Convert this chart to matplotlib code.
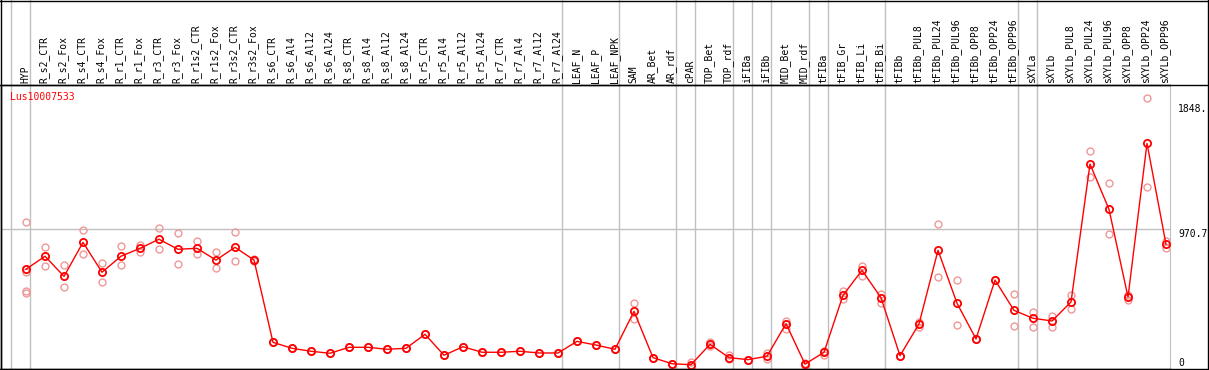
import matplotlib
matplotlib.use('Agg')
import matplotlib.pyplot as plt
import matplotlib.transforms as mtransforms
from matplotlib.lines import Line2D

# Sample names across the top
labels = ['HYP', 'R_s2_CTR', 'R_s2_Fox', 'R_s4_CTR', 'R_s4_Fox', 'R_r1_CTR', 'R_r1_Fox',
          'R_r3_CTR', 'R_r3_Fox', 'R_r1s2_CTR', 'R_r1s2_Fox', 'R_r3s2_CTR', 'R_r3s2_Fox',
          'R_s6_CTR', 'R_s6_Al4', 'R_s6_Al12', 'R_s6_Al24', 'R_s8_CTR', 'R_s8_Al4',
          'R_s8_Al12', 'R_s8_Al24', 'R_r5_CTR', 'R_r5_Al4', 'R_r5_Al12', 'R_r5_Al24',
          'R_r7_CTR', 'R_r7_Al4', 'R_r7_Al12', 'R_r7_Al24', 'LEAF_N', 'LEAF_P', 'LEAF_NPK',
          'SAM', 'AR_Bet', 'AR_rdf', 'cPAR', 'TOP_Bet', 'TOP_rdf', 'iFIBa', 'iFIBb',
          'MID_Bet', 'MID_rdf', 'tFIBa', 'tFIB_Gr', 'tFIB_Li', 'tFIB_Bi', 'tFIBb',
          'tFIBb_PUL8', 'tFIBb_PUL24', 'tFIBb_PUL96', 'tFIBb_OPP8', 'tFIBb_OPP24',
          'tFIBb_OPP96', 'sXYLa', 'sXYLb', 'sXYLb_PUL8', 'sXYLb_PUL24', 'sXYLb_PUL96',
          'sXYLb_OPP8', 'sXYLb_OPP24', 'sXYLb_OPP96']

# Mean expression per sample
means = [683, 775, 633, 873, 662, 775, 831, 895, 824, 831, 748, 838, 748,
         167, 125, 104, 90, 132, 132, 118, 125, 224, 76, 136, 97,
         97, 104, 92, 92, 174, 148, 118,
         386, 59, 16, 9, 153, 59, 45, 69,
         299, 13, 97, 499, 676, 482, 73,
         297, 817, 443, 191, 607, 393,
         337, 318, 452, 1426, 1106, 487, 1572, 859]

# Replicate values per sample
reps = [[1019, 666, 532, 518], [838, 704], [711, 558], [958, 789], [725, 591],
        [845, 711], [856, 803], [972, 824], [937, 718], [883, 789], [803, 690],
        [946, 739], [755, 743],
        [167, 167], [125, 125], [104, 104], [90, 90], [132, 132], [132, 132],
        [118, 118], [125, 125], [224, 224], [76, 76], [136, 136], [97, 97],
        [97, 97], [104, 104], [92, 92], [92, 92], [174, 174], [148, 148], [118, 118],
        [443, 334], [59, 59], [16, 16], [30, 2], [166, 141], [76, 52], [45, 45], [94, 47],
        [320, 259], [18, 7], [108, 80], [532, 475], [708, 638], [508, 443], [73, 73],
        [309, 278], [1000, 626], [605, 287], [191, 191], [607, 607], [506, 282],
        [383, 273], [355, 275], [501, 402], [1516, 1332], [1290, 930], [501, 466],
        [1890, 1262], [883, 835]]

# group separators (index of last sample in each block)
group_ends = [-1, 0, 28, 31, 34, 35, 37, 38, 39, 41, 42, 45, 52, 53]

yticks = [0, 970.7, 1848.]
ytick_labels = ['0', '970.7', '1848.']
gene = 'Lus10007533'

mono = 'DejaVu Sans Mono'
W, H = 1209, 370

fig = plt.figure(figsize=(W / 100, H / 100), dpi=100)
ax_top, ax_bot, ax_left, ax_right = 85, 368.5, 1, 1170
ax = fig.add_axes([ax_left / W, (H - ax_bot) / H, (ax_right - ax_left) / W, (ax_bot - ax_top) / H])

x = list(range(len(labels)))
ax.set_xlim(-1.316, 60.21)
ax.set_ylim(-17.6, 1984)

# grid/separators
ext = 1 + ax_top / (ax_bot - ax_top)
for g in group_ends:
    ax.axvline(g + 0.235, ymin=0, ymax=ext, color='#c0c0c0', lw=1, clip_on=False, zorder=1)
ax.axhline(970.7, color='#c0c0c0', lw=1, zorder=1)

# replicates
for i, r in enumerate(reps):
    ax.plot([i] * len(r), r, ls='none', marker='o', ms=5, mfc='none', mec='#ee9898', mew=1, zorder=2)

# means
ax.plot(x, means, color='#ff0000', lw=1, marker='o', ms=5.2, mfc='none', mec='#ff0000', mew=1.3, zorder=3)

ax.set_xticks([])
ax.set_yticks([])
for s in ['left', 'bottom', 'top']:
    ax.spines[s].set_color('black')
    ax.spines[s].set_linewidth(1)
ax.spines['right'].set_color('#c0c0c0')

# sample names
trans = mtransforms.blended_transform_factory(ax.transData, ax.transAxes)
for i, lab in enumerate(labels):
    ax.text(i - 0.05, 1 + 2 / (ax_bot - ax_top), lab, rotation=90, ha='center', va='bottom',
            family=mono, fontsize=7, transform=trans, clip_on=False)

# value labels on the right
trans_r = mtransforms.blended_transform_factory(ax.transAxes, ax.transData)
for v, t in zip(yticks, ytick_labels):
    va = 'baseline' if v == 0 else 'top'
    ax.text(1.0068, v, t, ha='left', va=va, family=mono, fontsize=7, transform=trans_r, clip_on=False)

fig.text(10 / W, 1 - 97 / H, gene, color='red', family=mono, fontsize=7, ha='left', va='center')

# outer frame
fig.add_artist(Line2D([0.5 / W, 0.5 / W], [0, 1], color='black', lw=1))
fig.add_artist(Line2D([1207.5 / W, 1207.5 / W], [0, 1], color='black', lw=1))
fig.add_artist(Line2D([0, 1208 / W], [1 - 0.5 / H, 1 - 0.5 / H], color='black', lw=1))
fig.add_artist(Line2D([0, 1208 / W], [(H - ax_bot) / H, (H - ax_bot) / H], color='black', lw=1))
fig.add_artist(Line2D([0, 1208 / W], [(H - ax_top) / H, (H - ax_top) / H], color='black', lw=1))

fig.savefig('out.png', dpi=100)
